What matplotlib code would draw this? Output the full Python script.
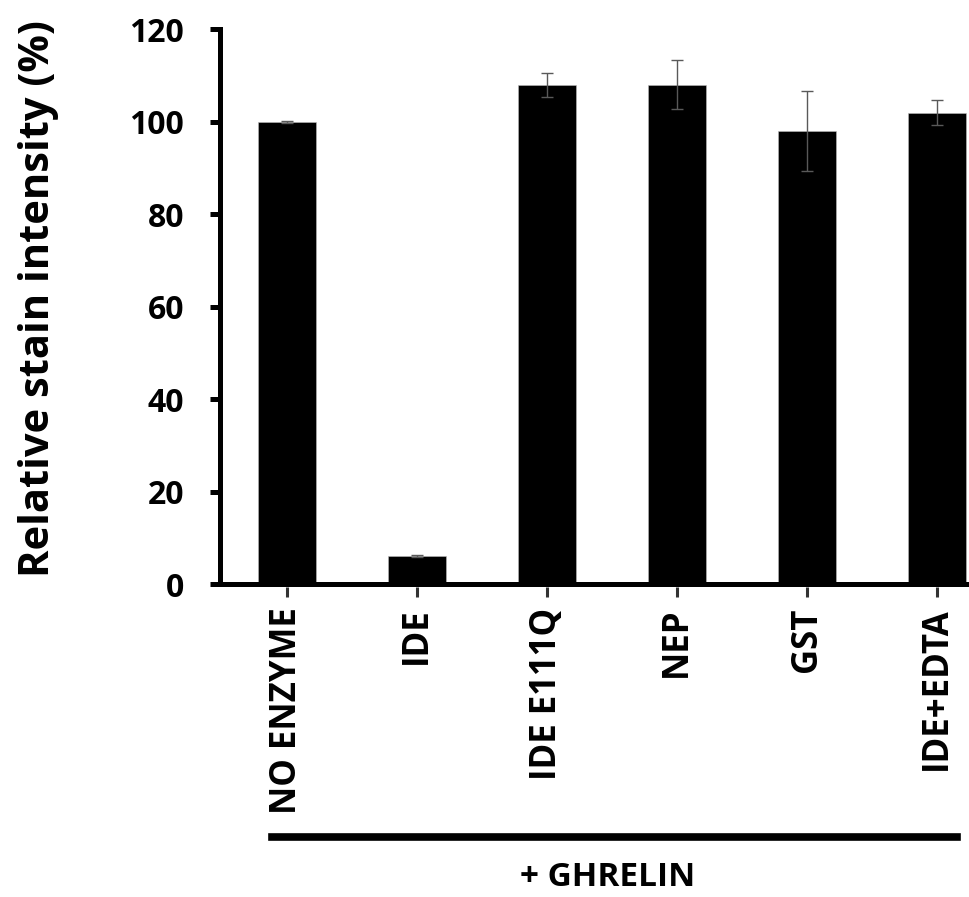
import matplotlib

matplotlib.use("Agg")
import matplotlib.pyplot as plt
import matplotlib.transforms as mtransforms

# values
categories = ["NO ENZYME", "IDE", "IDE E111Q", "NEP", "GST", "IDE+EDTA"]
intensity = [100.0, 6.0, 108.0, 108.0, 98.0, 102.0]
errors = [0.2, 0.2, 2.6, 5.3, 8.7, 2.7]
yticks = [0, 20, 40, 60, 80, 100, 120]
group_label = "+ GHRELIN"

plt.rcParams["font.family"] = ["Open Sans", "DejaVu Sans"]
plt.rcParams["font.weight"] = "bold"

W, H = 969, 897
fig = plt.figure(figsize=(W / 100, H / 100), dpi=100)
ax = fig.add_axes([219.5 / W, 1 - 584 / H, 1 - 219.5 / W, (584 - 29.5) / H])

x = list(range(len(categories)))
ax.bar(x, intensity, width=0.45, color="black", edgecolor="#bbbbbb", linewidth=0.4, zorder=2)
ax.errorbar(x, intensity, yerr=errors, fmt="none", ecolor="#595959",
            elinewidth=1.0, capsize=4.2, capthick=1.0, zorder=3)

ax.set_xlim(-0.52, 5.245)
ax.set_ylim(0, 120)
ax.set_yticks(yticks)
ax.set_yticklabels([str(t) for t in yticks], fontsize=23, fontweight="bold")
ax.tick_params(axis="y", direction="out", length=7.5, width=3.6, pad=18)

ax.set_xticks(x)
ax.set_xticklabels(categories, rotation=90, fontsize=25, fontweight="bold", va="top")
ax.tick_params(axis="x", length=0, pad=17)

# small detached tick marks under the axis
trans = mtransforms.blended_transform_factory(ax.transData, ax.transAxes)
ax.plot(x, [-0.0153] * len(x), linestyle="none", marker="|", markersize=6.5,
        markeredgewidth=2.2, color="#333333", transform=trans, clip_on=False)

for side in ("top", "right"):
    ax.spines[side].set_visible(False)
for side in ("left", "bottom"):
    ax.spines[side].set_linewidth(3.6)

ax.set_ylabel("Relative stain intensity (%)", fontsize=30, fontweight="bold")
ax.yaxis.set_label_coords((59 - 219.5) / (W - 219.5), 0.514)

# group bracket below the category labels
fig.add_artist(plt.Line2D([272 / W, 957 / W], [1 - 837 / H] * 2,
                          color="black", linewidth=5.5, transform=fig.transFigure))
fig.text(608 / W, 1 - 877 / H, group_label, ha="center", va="center",
         fontsize=24, fontweight="bold")

fig.savefig("out.png", dpi=100)
